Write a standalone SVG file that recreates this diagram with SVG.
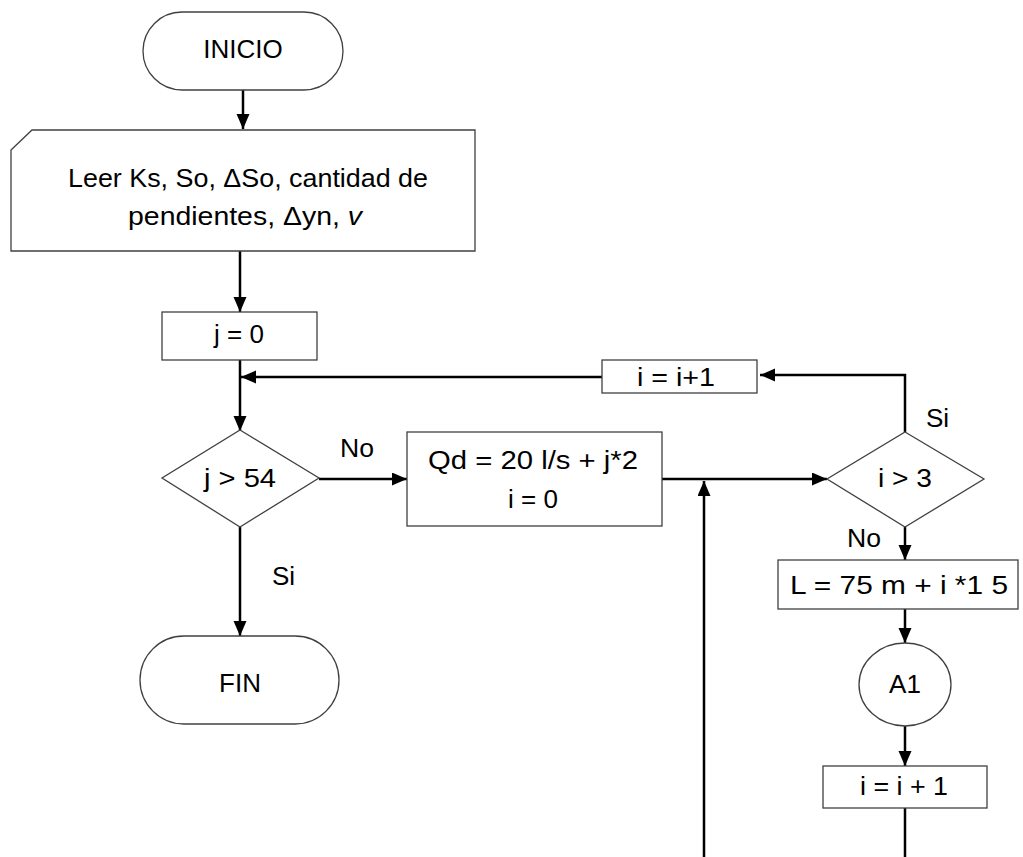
<svg xmlns="http://www.w3.org/2000/svg" width="1023" height="857" viewBox="0 0 1023 857">
  <defs>
    <marker id="arrow" markerUnits="userSpaceOnUse" markerWidth="16" markerHeight="14" refX="15" refY="6.5" orient="auto">
      <path d="M0,0 L15,6.5 L0,13 z" fill="#000"/>
    </marker>
  </defs>
  <style>
    .shape { fill: #fff; stroke: #404040; stroke-width: 1.3; }
    .conn { fill: none; stroke: #000; stroke-width: 2.5; }
    .txt { font-family: "Liberation Sans", Arial, sans-serif; font-size: 26px; fill: #000; text-anchor: middle; }
    .lbl { font-family: "Liberation Sans", Arial, sans-serif; font-size: 26px; fill: #000; }
  </style>
  <rect width="1023" height="857" fill="#fff"/>

  <!-- connectors -->
  <g id="connectors">
    <line class="conn" x1="243" y1="90" x2="243" y2="129" marker-end="url(#arrow)"/>
    <line class="conn" x1="240" y1="251" x2="240" y2="312" marker-end="url(#arrow)"/>
    <line class="conn" x1="240" y1="360" x2="240" y2="431" marker-end="url(#arrow)"/>
    <line class="conn" x1="602" y1="377" x2="241" y2="377" marker-end="url(#arrow)"/>
    <polyline class="conn" points="905,432 905,375 760,375" marker-end="url(#arrow)"/>
    <line class="conn" x1="319" y1="479" x2="407" y2="479" marker-end="url(#arrow)"/>
    <line class="conn" x1="240" y1="527" x2="240" y2="636" marker-end="url(#arrow)"/>
    <line class="conn" x1="662" y1="479" x2="827" y2="479" marker-end="url(#arrow)"/>
    <line class="conn" x1="704" y1="857" x2="704" y2="481" marker-end="url(#arrow)"/>
    <line class="conn" x1="905" y1="527" x2="905" y2="560" marker-end="url(#arrow)"/>
    <line class="conn" x1="905" y1="609" x2="905" y2="643" marker-end="url(#arrow)"/>
    <line class="conn" x1="905" y1="726" x2="905" y2="766" marker-end="url(#arrow)"/>
    <line class="conn" x1="905" y1="808" x2="905" y2="857"/>
  </g>

  <!-- edge labels -->
  <g id="labels">
    <text class="lbl" x="340" y="457" textLength="34" lengthAdjust="spacingAndGlyphs">No</text>
    <text class="lbl" x="272" y="585" font-size="25">Si</text>
    <text class="lbl" x="926" y="427" font-size="25">Si</text>
    <text class="lbl" x="847" y="547" textLength="34" lengthAdjust="spacingAndGlyphs">No</text>
  </g>

  <g id="inicio">
    <rect class="shape" x="143" y="12" width="200" height="78" rx="39"/>
    <text class="txt" x="243" y="58">INICIO</text>
  </g>

  <g id="leer">
    <polygon class="shape" points="11,150 32,130 475,130 475,251 11,251"/>
    <text class="txt" x="248" y="187" textLength="360" lengthAdjust="spacingAndGlyphs">Leer Ks, So, ΔSo, cantidad de</text>
    <text class="txt" x="245" y="225" textLength="234" lengthAdjust="spacingAndGlyphs">pendientes, Δyn, <tspan font-style="italic">v</tspan></text>
  </g>

  <g id="j0">
    <rect class="shape" x="162" y="312" width="155" height="48"/>
    <text class="txt" x="239" y="343">j = 0</text>
  </g>

  <g id="incr-top">
    <rect class="shape" x="602" y="360" width="155" height="33"/>
    <text class="txt" x="676" y="386" textLength="78" lengthAdjust="spacingAndGlyphs">i = i+1</text>
  </g>

  <g id="cond-j">
    <polygon class="shape" points="240,430 319,478 240,527 162,478"/>
    <text class="txt" x="240" y="487" textLength="72" lengthAdjust="spacingAndGlyphs">j &gt; 54</text>
  </g>

  <g id="qd">
    <rect class="shape" x="407" y="432" width="255" height="94"/>
    <text class="txt" x="533" y="469" textLength="210" lengthAdjust="spacingAndGlyphs">Qd = 20 l/s + j*2</text>
    <text class="txt" x="533" y="508">i = 0</text>
  </g>

  <g id="cond-i">
    <polygon class="shape" points="905,432 984,479 905,527 827,479"/>
    <text class="txt" x="905" y="487" textLength="54" lengthAdjust="spacingAndGlyphs">i &gt; 3</text>
  </g>

  <g id="longitud">
    <rect class="shape" x="778" y="560" width="240" height="49"/>
    <text class="txt" x="899" y="594" textLength="218" lengthAdjust="spacingAndGlyphs">L = 75 m + i *1 5</text>
  </g>

  <g id="a1">
    <ellipse class="shape" cx="905" cy="684.5" rx="46" ry="41.5"/>
    <text class="txt" x="905" y="693">A1</text>
  </g>

  <g id="incr-bottom">
    <rect class="shape" x="823" y="766" width="164" height="42"/>
    <text class="txt" x="904" y="795" textLength="88" lengthAdjust="spacingAndGlyphs">i = i + 1</text>
  </g>

  <g id="fin">
    <rect class="shape" x="140" y="636" width="199" height="88" rx="44"/>
    <text class="txt" x="240" y="692">FIN</text>
  </g>
</svg>
